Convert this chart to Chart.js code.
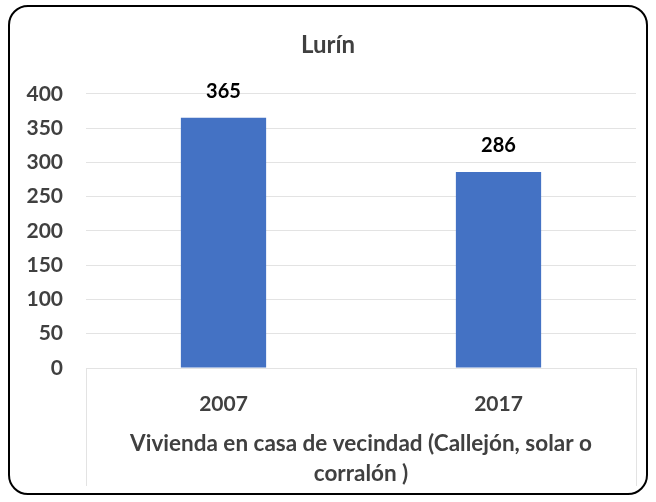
<!DOCTYPE html>
<html lang="es">
<head>
    <meta charset="UTF-8">
    <title>Lurín</title>
    <script src="https://cdn.jsdelivr.net/npm/chart.js"></script>
    <style>
        body { margin: 0; background: #fff; }
        #wrap { position: relative; width: 656px; height: 502px; }
        #frame {
            position: absolute; left: 8px; top: 5px; width: 636px; height: 486px;
            border: 2px solid #000; border-radius: 20px; pointer-events: none;
        }
    </style>
</head>
<body>
<div id="wrap">
    <canvas id="chart" width="656" height="502"></canvas>
    <div id="frame"></div>
</div>
<script>
    const categories = ['2007', '2017'];
    const viviendas = [365, 286];
    const chartTitle = 'Lurín';
    const axisTitle = ['Vivienda en casa de vecindad (Callejón, solar o', 'corralón )'];

    const textColor = '#404040';
    const gridColor = '#e3e3e3';

    // numbers above the bars
    const valueLabels = {
        id: 'valueLabels',
        afterDatasetsDraw(chart) {
            const ctx = chart.ctx;
            const meta = chart.getDatasetMeta(0);
            ctx.save();
            ctx.font = 'bold 20px Lato';
            ctx.fillStyle = '#000';
            ctx.textAlign = 'center';
            ctx.textBaseline = 'middle';
            meta.data.forEach((bar, i) => {
                ctx.fillText(String(viviendas[i]), bar.x, bar.y - 26);
            });
            ctx.restore();
        }
    };

    // side lines of the category axis box
    const axisBox = {
        id: 'axisBox',
        beforeDatasetsDraw(chart) {
            const { ctx, chartArea } = chart;
            ctx.save();
            ctx.strokeStyle = gridColor;
            ctx.lineWidth = 1;
            ctx.beginPath();
            [chartArea.left, chartArea.right].forEach(x => {
                ctx.moveTo(Math.round(x) + 0.5, chartArea.bottom);
                ctx.lineTo(Math.round(x) + 0.5, 486);
            });
            ctx.stroke();
            ctx.restore();
        }
    };

    new Chart(document.getElementById('chart'), {
        type: 'bar',
        data: {
            labels: categories,
            datasets: [{
                data: viviendas,
                backgroundColor: '#4472C4',
                borderWidth: 0,
                categoryPercentage: 0.62,
                barPercentage: 0.5
            }]
        },
        options: {
            responsive: false,
            animation: false,
            layout: { padding: { left: 20, right: 20, top: 0, bottom: 0 } },
            plugins: {
                legend: { display: false },
                tooltip: { enabled: false },
                title: {
                    display: true,
                    text: chartTitle,
                    color: textColor,
                    font: { family: 'Lato', size: 24, weight: 'bold', lineHeight: 1.2 },
                    padding: { top: 31, bottom: 34 }
                }
            },
            scales: {
                x: {
                    grid: { display: false },
                    border: { display: false },
                    ticks: {
                        color: textColor,
                        font: { family: 'Lato', size: 21, weight: 'bold' },
                        padding: 16
                    },
                    title: {
                        display: true,
                        text: axisTitle,
                        color: textColor,
                        font: { family: 'Lato', size: 22.5, weight: 'bold', lineHeight: '30px' },
                        padding: { top: 0, bottom: 13 }
                    },
                    afterFit(scale) { scale.height = 134; }
                },
                y: {
                    min: 0,
                    max: 400,
                    ticks: {
                        stepSize: 50,
                        color: textColor,
                        font: { family: 'Lato', size: 21, weight: 'bold' },
                        padding: 23
                    },
                    grid: { color: gridColor, drawTicks: false },
                    border: { display: false },
                    afterFit(scale) { scale.width = 66; }
                }
            }
        },
        plugins: [valueLabels, axisBox]
    });
</script>
</body>
</html>
